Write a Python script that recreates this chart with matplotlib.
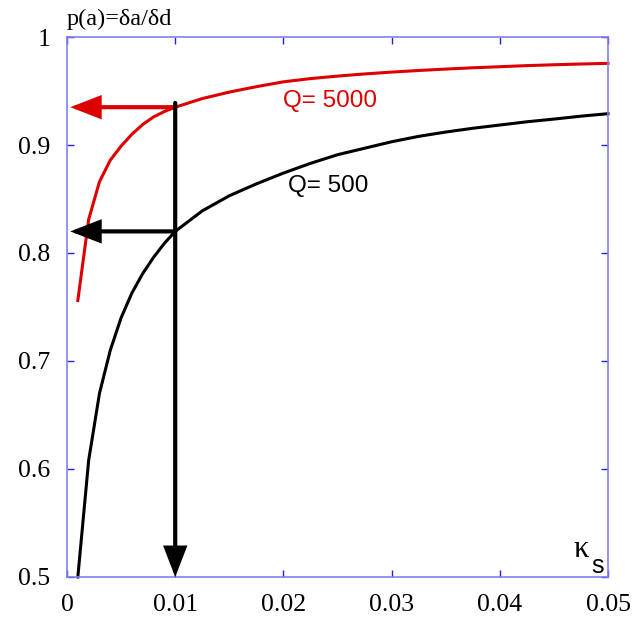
import matplotlib
matplotlib.use("Agg")
import matplotlib.pyplot as plt

# kappa_s values and p(a)
kappa = [0.001, 0.002, 0.003, 0.004, 0.005, 0.006, 0.007, 0.008, 0.009, 0.010,
         0.0125, 0.015, 0.0175, 0.020, 0.0225, 0.025, 0.0275, 0.030, 0.0325,
         0.035, 0.0375, 0.040, 0.0425, 0.045, 0.0475, 0.050]
p_q5000 = [0.756, 0.831, 0.866, 0.886, 0.899, 0.910, 0.919, 0.926, 0.931, 0.935,
           0.943, 0.949, 0.954, 0.9585, 0.9615, 0.9638, 0.9658, 0.9675, 0.969,
           0.9703, 0.9715, 0.9725, 0.9735, 0.9743, 0.975, 0.9756]
p_q500 = [0.500, 0.608, 0.670, 0.710, 0.740, 0.763, 0.781, 0.796, 0.809, 0.820,
          0.839, 0.853, 0.864, 0.874, 0.883, 0.891, 0.897, 0.903, 0.908,
          0.912, 0.9155, 0.9185, 0.9215, 0.924, 0.9267, 0.929]

k_mark = 0.010
p_mark_5000 = 0.935
p_mark_500 = 0.820
p_vert_top = 0.939
arrow_end_x = 0.0003

xticks = [0, 0.01, 0.02, 0.03, 0.04, 0.05]
xticklabels = ["0", "0.01", "0.02", "0.03", "0.04", "0.05"]
yticks = [0.5, 0.6, 0.7, 0.8, 0.9, 1.0]
yticklabels = ["0.5", "0.6", "0.7", "0.8", "0.9", "1"]

fig = plt.figure(figsize=(6.34, 6.21), dpi=100)
ax = fig.add_axes([0.1057, 0.0709, 0.8533, 0.8695])

ax.plot(kappa, p_q5000, color="#dd0000", lw=2.2, clip_on=False)
ax.plot(kappa, p_q500, color="black", lw=2.2, clip_on=False)

arrow_style = "-|>,head_length=0.85,head_width=0.33"


def arrow(x0, y0, x1, y1, color):
    ax.annotate("", xy=(x1, y1), xytext=(x0, y0),
                arrowprops=dict(arrowstyle=arrow_style, color=color, lw=3.0,
                                shrinkA=0, shrinkB=0, mutation_scale=20,
                                joinstyle="miter"))


arrow(k_mark, p_mark_5000, arrow_end_x, p_mark_5000, "#dd0000")
arrow(k_mark, p_mark_500, arrow_end_x, p_mark_500, "black")
arrow(k_mark, p_vert_top, k_mark, 0.5, "black")

ax.text(0.0200, 0.9352, "Q= 5000", color="#dd0000", fontsize=17.5,
        family="Liberation Sans", va="baseline")
ax.text(0.0204, 0.8565, "Q= 500", color="black", fontsize=17.5,
        family="Liberation Sans", va="baseline")

ax.set_xlim(0, 0.05)
ax.set_ylim(0.5, 1.0)
ax.set_xticks(xticks)
ax.set_xticklabels(xticklabels)
ax.set_yticks(yticks)
ax.set_yticklabels(yticklabels)
for lab in ax.get_xticklabels() + ax.get_yticklabels():
    lab.set_family("Liberation Serif")
    lab.set_fontsize(18.5)
ax.tick_params(direction="in", length=5, width=1, color="#2020dd",
               top=True, right=True, pad=12)

for s in ax.spines.values():
    s.set_color("#8080f0")
    s.set_linewidth(1.2)

fig.text(67 / 634, 1 - 25 / 621, "p(a)=\u03b4a/\u03b4d", fontsize=17.5,
         family="Liberation Serif", va="baseline", ha="left")
ax.text(0.04824, 0.5185, "\u03ba", fontsize=22, family="Liberation Serif",
        ha="right", va="baseline")
ax.text(0.04850, 0.5037, "s", fontsize=18, family="Liberation Sans",
        ha="left", va="baseline")

fig.savefig("out.png", dpi=100)
